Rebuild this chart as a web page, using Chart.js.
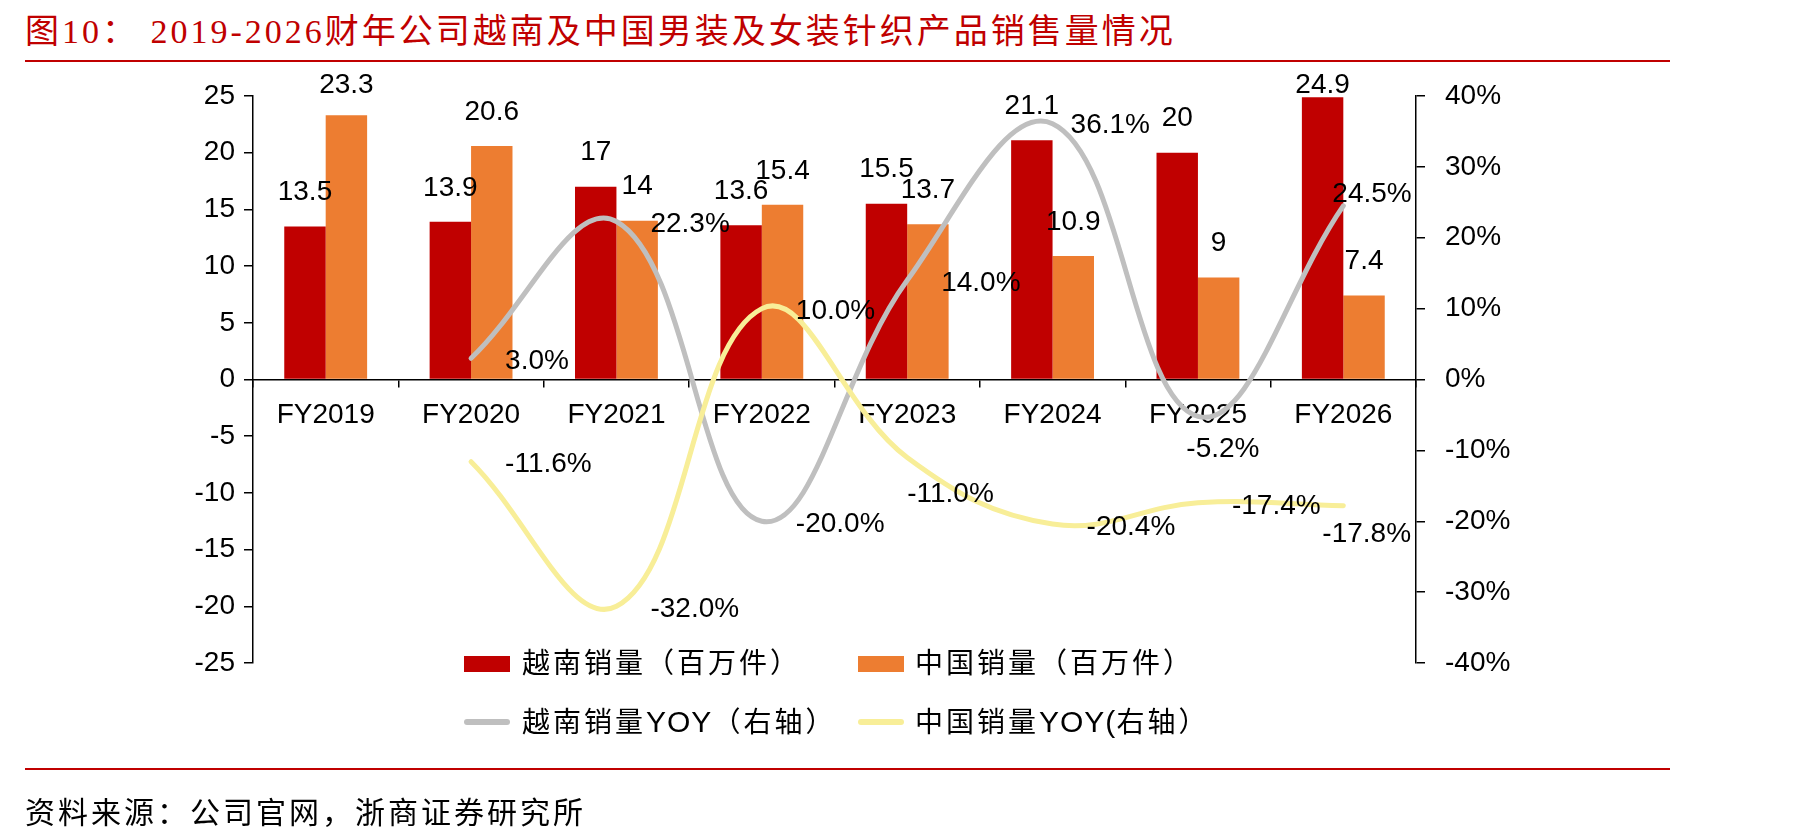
<!DOCTYPE html>
<html>
<head>
<meta charset="utf-8">
<script src="https://cdn.jsdelivr.net/npm/chart.js@4/dist/chart.umd.min.js"></script>
<style>
  html, body { margin: 0; padding: 0; background: #fff; }
  #page { position: relative; width: 1798px; height: 838px; overflow: hidden; }
  #chart { position: absolute; left: 0; top: 0; }
  .title {
    position: absolute; left: 25px; top: 4px;
    font-family: "Liberation Serif", "Noto Sans CJK SC", serif;
    font-size: 34px; letter-spacing: 3px; color: #c00000; white-space: nowrap;
  }
  .rule { position: absolute; left: 25px; width: 1645px; height: 2px; background: #c00000; }
  .source {
    position: absolute; left: 25px; top: 788px;
    font-family: "Noto Sans CJK SC", sans-serif;
    font-size: 30px; letter-spacing: 3px; color: #000; white-space: nowrap;
  }
  .lg { position: absolute; font-family: "Liberation Sans", "Noto Sans CJK SC", sans-serif; font-size: 28px;
        letter-spacing: 3px; color: #000; white-space: nowrap; line-height: 40px; }
  .lg span { font-size: 30px; letter-spacing: 1px; }
  .sw { position: absolute; width: 46px; }
</style>
</head>
<body>
<div id="page">
  <div class="title">图10：&nbsp;2019-2026财年公司越南及中国男装及女装针织产品销售量情况</div>
  <div class="rule" style="top:60px"></div>

  <canvas id="chart" width="1798" height="838"></canvas>

  <!-- légende faite à la main pour garder les deux colonnes alignées -->
  <div class="sw" style="left:464px; top:656px; height:16px; background:#c00000"></div>
  <div class="lg" style="left:522px; top:644px">越南销量（百万件）</div>
  <div class="sw" style="left:858px; top:656px; height:16px; background:#ed7d31"></div>
  <div class="lg" style="left:915px; top:644px">中国销量（百万件）</div>
  <div class="sw" style="left:464px; top:719px; height:6px; border-radius:3px; background:#bfbfbf"></div>
  <div class="lg" style="left:522px; top:702px">越南销量<span>YOY</span>（右轴）</div>
  <div class="sw" style="left:858px; top:719px; height:6px; border-radius:3px; background:#f8ee98"></div>
  <div class="lg" style="left:915px; top:702px">中国销量<span>YOY(</span>右轴）</div>

  <div class="rule" style="top:768px"></div>
  <div class="source">资料来源：公司官网，浙商证券研究所</div>
</div>

<script>
// --- DONNÉES ---
const years    = ['FY2019', 'FY2020', 'FY2021', 'FY2022', 'FY2023', 'FY2024', 'FY2025', 'FY2026'];
const vnSales  = [13.5, 13.9, 17, 13.6, 15.5, 21.1, 20, 24.9];
const cnSales  = [23.3, 20.6, 14, 15.4, 13.7, 10.9, 9, 7.4];
const vnYoy    = [null, 3.0, 22.3, -20.0, 14.0, 36.1, -5.2, 24.5];
const cnYoy    = [null, -11.6, -32.0, 10.0, -11.0, -20.4, -17.4, -17.8];
const leftTicks  = [-25, 25, 5];   // min, max, pas
const rightTicks = [-40, 40, 10];

const FONT = '"Liberation Sans", Arial, sans-serif';

// décalages des étiquettes des courbes : [dx, dy, align]
const labelNudge = {
  vn: { 5: [18, 2, 'left'], 6: [25, 33, 'center'], 7: [-11, -12, 'left'] },
  cn: { 4: [0, 37, 'left'], 7: [-21, 29, 'left'] }
};

// --- ÉTIQUETTES DE VALEURS ---
const valueLabels = {
  id: 'valueLabels',
  afterDatasetsDraw(chart) {
    const ctx = chart.ctx;
    ctx.save();
    ctx.font = '28px ' + FONT;
    ctx.fillStyle = '#000';
    ctx.textBaseline = 'middle';
    chart.data.datasets.forEach((ds, di) => {
      const meta = chart.getDatasetMeta(di);
      meta.data.forEach((el, i) => {
        const v = ds.data[i];
        if (v == null) return;
        if (meta.type === 'bar') {
          ctx.textAlign = 'center';
          ctx.fillText(String(v), el.x, Math.max(el.y - 34, 85));
        } else {
          const n = (labelNudge[ds.key] || {})[i] || [34, 3, 'left'];
          ctx.textAlign = n[2];
          ctx.fillText(v.toFixed(1) + '%', el.x + n[0], el.y + n[1]);
        }
      });
    });
    ctx.restore();
  }
};

const axisGrid = { drawOnChartArea: false, color: '#000', lineWidth: 1.5, tickLength: 9 };
const axisBorder = { display: true, color: '#000', width: 1.5 };

new Chart(document.getElementById('chart'), {
  data: {
    labels: years,
    datasets: [
      { type: 'line', key: 'cn', label: '中国销量YOY(右轴)', data: cnYoy, yAxisID: 'y1',
        borderColor: '#f8ee98', borderWidth: 5, pointRadius: 0, tension: 0.4, order: 0,
        borderCapStyle: 'round' },
      { type: 'line', key: 'vn', label: '越南销量YOY（右轴）', data: vnYoy, yAxisID: 'y1',
        borderColor: '#bfbfbf', borderWidth: 5, pointRadius: 0, tension: 0.4, order: 1,
        borderCapStyle: 'round' },
      { type: 'bar', label: '越南销量（百万件）', data: vnSales, yAxisID: 'y',
        backgroundColor: '#c00000', order: 2, categoryPercentage: 0.57, barPercentage: 1 },
      { type: 'bar', label: '中国销量（百万件）', data: cnSales, yAxisID: 'y',
        backgroundColor: '#ed7d31', order: 2, categoryPercentage: 0.57, barPercentage: 1 }
    ]
  },
  options: {
    responsive: false,
    animation: false,
    devicePixelRatio: 1,
    layout: { padding: { left: 173, right: 282, top: 96, bottom: 175 } },
    plugins: { legend: { display: false }, tooltip: { enabled: false } },
    scales: {
      x: {
        position: { y: 0 },
        grid: { drawOnChartArea: false, color: '#000', lineWidth: 1.5, tickLength: 7, offset: true },
        border: axisBorder,
        ticks: { color: '#000', font: { family: FONT, size: 28 }, padding: 12, maxRotation: 0 }
      },
      y: {
        position: 'left',
        min: leftTicks[0], max: leftTicks[1],
        grid: axisGrid, border: axisBorder,
        ticks: { stepSize: leftTicks[2], color: '#000', font: { family: FONT, size: 28 }, padding: 9 },
        afterFit: s => { s.width = 80; }
      },
      y1: {
        position: 'right',
        min: rightTicks[0], max: rightTicks[1],
        grid: axisGrid, border: axisBorder,
        ticks: { stepSize: rightTicks[2], color: '#000', font: { family: FONT, size: 28 }, padding: 20,
                 callback: v => v + '%' },
        afterFit: s => { s.width = 100; }
      }
    }
  },
  plugins: [valueLabels]
});
</script>
</body>
</html>
